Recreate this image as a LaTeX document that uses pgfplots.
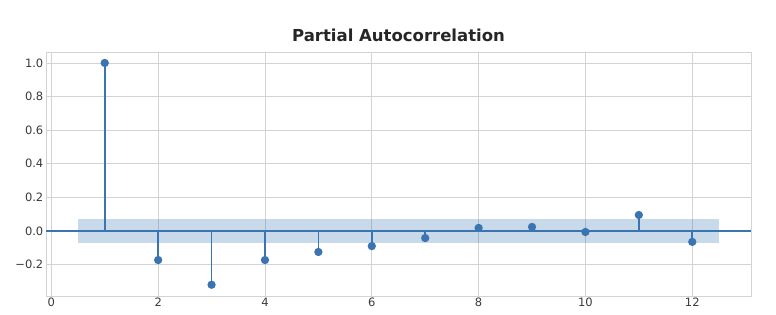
\documentclass[border=0pt]{standalone}
\usepackage{pgfplots}
\pgfplotsset{compat=1.18}
\usepackage{fontspec}
\setmainfont{DejaVu Sans}
\definecolor{stem}{HTML}{3B75B1}
\definecolor{gridc}{HTML}{D3D3D3}
\definecolor{tickc}{HTML}{3A3A3A}
\begin{document}
\begin{tikzpicture}
\begin{axis}[at={(46pt,18pt)}, anchor=south west,
  width=705pt, height=244pt, scale only axis,
  xmin=-0.1, xmax=13.1, ymin=-0.387, ymax=1.065,
  xtick={0,2,4,6,8,10,12}, xticklabels={0,2,4,6,8,10,12},
  ytick={-0.2,0,0.2,0.4,0.6,0.8,1.0},
  yticklabels={\char"2212 0.2,0.0,0.2,0.4,0.6,0.8,1.0},
  grid=major, grid style={gridc, line width=0.8pt},
  axis line style={gridc, line width=0.8pt},
  major tick length=0pt,
  tick style={draw=none},
  ticklabel style={font=\fontsize{11.5}{13}\selectfont, text=tickc},
  xticklabel style={inner sep=2pt},
  yticklabel style={inner sep=2.5pt},
  title={\bfseries Partial Autocorrelation},
  title style={font=\fontsize{16.5}{19}\selectfont, text=black!85, at={(0.5,1)}, anchor=base, yshift=4pt, inner sep=0pt},
]
\addplot[fill=stem, fill opacity=0.28, draw=none] coordinates {(0.5,-0.074) (12.5,-0.074) (12.5,0.074) (0.5,0.074)} -- cycle;
\addplot[stem, line width=1.6pt] coordinates {(-0.1,0) (13.1,0)};
\addplot[ycomb, stem, line width=1.6pt, mark=*, mark size=3.3pt, mark options={fill=stem, draw=stem}] coordinates {
(1,1.0) (2,-0.173) (3,-0.32) (4,-0.173) (5,-0.125) (6,-0.09)
(7,-0.042) (8,0.018) (9,0.024) (10,-0.006) (11,0.095) (12,-0.065)};
\end{axis}
\path (0,0) rectangle (776pt,314pt);
\end{tikzpicture}
\end{document}
